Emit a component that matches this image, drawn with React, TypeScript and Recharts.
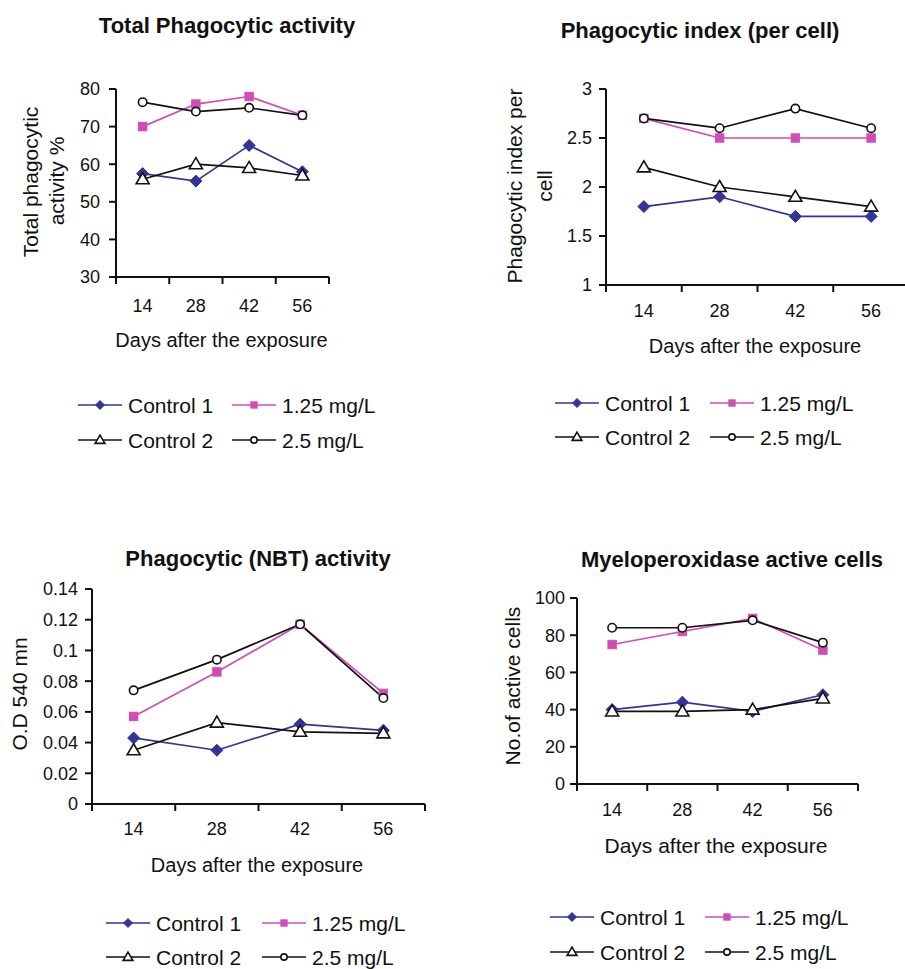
import React from 'react';
import { LineChart, Line, XAxis, YAxis } from 'recharts';

// ---------- data ----------
const days = [14, 28, 42, 56];
const dayBounds = [7, 21, 35, 49, 63];
const seriesNames = ['Control 1', '1.25 mg/L', 'Control 2', '2.5 mg/L'];

// Total phagocytic activity (%)
const totalControl1 = [57.5, 55.5, 65, 58];
const total125 = [70, 76, 78, 73];
const totalControl2 = [56, 60, 59, 57];
const total25 = [76.5, 74, 75, 73];
const totalTicks = [30, 40, 50, 60, 70, 80];

// Phagocytic index per cell
const indexControl1 = [1.8, 1.9, 1.7, 1.7];
const index125 = [2.7, 2.5, 2.5, 2.5];
const indexControl2 = [2.2, 2.0, 1.9, 1.8];
const index25 = [2.7, 2.6, 2.8, 2.6];
const indexTicks = [1, 1.5, 2, 2.5, 3];

// Phagocytic (NBT) activity, O.D 540 nm
const nbtControl1 = [0.043, 0.035, 0.052, 0.048];
const nbt125 = [0.057, 0.086, 0.117, 0.072];
const nbtControl2 = [0.035, 0.053, 0.047, 0.046];
const nbt25 = [0.074, 0.094, 0.117, 0.069];
const nbtTicks = [0, 0.02, 0.04, 0.06, 0.08, 0.1, 0.12, 0.14];

// Myeloperoxidase active cells
const mpoControl1 = [40, 44, 39, 48];
const mpo125 = [75, 82, 89, 72];
const mpoControl2 = [39, 39, 40, 46];
const mpo25 = [84, 84, 88, 76];
const mpoTicks = [0, 20, 40, 60, 80, 100];

const buildRows = (c1: number[], m125: number[], c2: number[], m25: number[]) =>
  days.map((d, i) => ({ day: d, c1: c1[i], m125: m125[i], c2: c2[i], m25: m25[i] }));

// ---------- styles ----------
const FONT = '"Liberation Sans", Arial, Helvetica, sans-serif';
const INK = '#111';

type MarkerKind = 'diamond' | 'square' | 'triangle' | 'circle';
const seriesStyles: { key: string; name: string; color: string; marker: MarkerKind }[] = [
  { key: 'c1', name: seriesNames[0], color: '#333399', marker: 'diamond' },
  { key: 'm125', name: seriesNames[1], color: '#D04DB6', marker: 'square' },
  { key: 'c2', name: seriesNames[2], color: '#111111', marker: 'triangle' },
  { key: 'm25', name: seriesNames[3], color: '#111111', marker: 'circle' },
];

const Marker = ({ kind, cx, cy, color, s = 1 }: { kind: MarkerKind; cx: number; cy: number; color: string; s?: number }) => {
  if (cx == null || cy == null || isNaN(cx) || isNaN(cy)) return null;
  if (kind === 'diamond') {
    const r = 6 * s;
    return <polygon points={`${cx},${cy - r} ${cx + r},${cy} ${cx},${cy + r} ${cx - r},${cy}`} fill={color} stroke={color} strokeWidth={1} />;
  }
  if (kind === 'square') {
    const h = 4.2 * s;
    return <rect x={cx - h} y={cy - h} width={2 * h} height={2 * h} fill={color} stroke={color} strokeWidth={1} />;
  }
  if (kind === 'triangle') {
    const w = 6.5 * s;
    return (
      <polygon
        points={`${cx},${cy - 6.5 * s} ${cx + w},${cy + 4.5 * s} ${cx - w},${cy + 4.5 * s}`}
        fill="#fff"
        stroke={color}
        strokeWidth={1.6}
      />
    );
  }
  return <circle cx={cx} cy={cy} r={4.2 * s} fill="#fff" stroke={color} strokeWidth={1.6} />;
};

const XTick = (props: any) => {
  const { x, y, payload, labelDy } = props;
  const v = payload && payload.value;
  if (days.includes(v)) {
    return (
      <text x={x} y={y + labelDy} textAnchor="middle" fontSize={18} fontFamily={FONT} fill={INK}>
        {v}
      </text>
    );
  }
  return <line x1={x} y1={y} x2={x} y2={y + 7} stroke={INK} strokeWidth={2} />;
};

// ---------- panels (layout) ----------
type Panel = {
  id: string;
  data: any[];
  plot: { x: number; y: number; w: number; h: number };
  yDomain: [number, number];
  yTicks: number[];
  tickMargin: number;
  xLabelDy: number;
  title: { text: string; x: number; y: number };
  yLabel: { text: string; x: number; y: number }[];
  xLabel: { x: number; y: number; size: number };
  legend: { x1: number; x2: number; y1: number; y2: number };
};

const panels: Panel[] = [
  {
    id: 'total',
    data: buildRows(totalControl1, total125, totalControl2, total25),
    plot: { x: 116, y: 89, w: 213, h: 188 },
    yDomain: [30, 80],
    yTicks: totalTicks,
    tickMargin: 9,
    xLabelDy: 35,
    title: { text: 'Total Phagocytic activity', x: 227, y: 33 },
    yLabel: [
      { text: 'Total phagocytic', x: 38, y: 182 },
      { text: 'activity %', x: 63.5, y: 181 },
    ],
    xLabel: { x: 221.5, y: 347, size: 20 },
    legend: { x1: 78, x2: 232, y1: 405, y2: 440 },
  },
  {
    id: 'index',
    data: buildRows(indexControl1, index125, indexControl2, index25),
    plot: { x: 606, y: 89, w: 303, h: 196 },
    yDomain: [1, 3],
    yTicks: indexTicks,
    tickMargin: 7,
    xLabelDy: 32,
    title: { text: 'Phagocytic index (per cell)', x: 700, y: 38 },
    yLabel: [
      { text: 'Phagocytic index per', x: 522, y: 186 },
      { text: 'cell', x: 552, y: 186 },
    ],
    xLabel: { x: 755, y: 353, size: 20 },
    legend: { x1: 555, x2: 710, y1: 403, y2: 437 },
  },
  {
    id: 'nbt',
    data: buildRows(nbtControl1, nbt125, nbtControl2, nbt25),
    plot: { x: 92, y: 589, w: 333, h: 215 },
    yDomain: [0, 0.14],
    yTicks: nbtTicks,
    tickMargin: 7,
    xLabelDy: 31,
    title: { text: 'Phagocytic (NBT) activity', x: 258, y: 566 },
    yLabel: [{ text: 'O.D 540 mn', x: 27, y: 694 }],
    xLabel: { x: 257, y: 872, size: 20 },
    legend: { x1: 106, x2: 262, y1: 923, y2: 957 },
  },
  {
    id: 'mpo',
    data: buildRows(mpoControl1, mpo125, mpoControl2, mpo25),
    plot: { x: 577, y: 598, w: 281, h: 186 },
    yDomain: [0, 100],
    yTicks: mpoTicks,
    tickMargin: 5,
    xLabelDy: 32,
    title: { text: 'Myeloperoxidase active cells', x: 732, y: 567 },
    yLabel: [{ text: 'No.of active cells', x: 520, y: 686 }],
    xLabel: { x: 716, y: 853, size: 21 },
    legend: { x1: 550, x2: 705, y1: 917, y2: 952 },
  },
];

const LEFT_PAD = 70;
const TOP_PAD = 12;
const RIGHT_PAD = 14;
const X_AXIS_H = 40;
const BOTTOM_EXTRA = 6;

const PanelChart = ({ p }: { p: Panel }) => {
  const width = p.plot.w + LEFT_PAD + RIGHT_PAD;
  const height = p.plot.h + TOP_PAD + X_AXIS_H + BOTTOM_EXTRA;
  const allXTicks = [...dayBounds, ...days].sort((a, b) => a - b);
  return (
    <div style={{ position: 'absolute', left: p.plot.x - LEFT_PAD, top: p.plot.y - TOP_PAD, width, height }}>
      <LineChart width={width} height={height} data={p.data} margin={{ top: TOP_PAD, right: RIGHT_PAD, left: 0, bottom: BOTTOM_EXTRA }}>
        <XAxis
          dataKey="day"
          type="number"
          domain={[7, 63]}
          ticks={allXTicks}
          interval={0}
          height={X_AXIS_H}
          tickLine={false}
          tickSize={0}
          tickMargin={0}
          axisLine={{ stroke: INK, strokeWidth: 2 }}
          tick={<XTick labelDy={p.xLabelDy} />}
        />
        <YAxis
          type="number"
          width={LEFT_PAD}
          domain={p.yDomain}
          ticks={p.yTicks}
          interval={0}
          tickSize={7}
          tickMargin={p.tickMargin}
          axisLine={{ stroke: INK, strokeWidth: 2 }}
          tickLine={{ stroke: INK, strokeWidth: 2 }}
          tick={{ fontSize: 18, fontFamily: FONT, fill: INK }}
        />
        {seriesStyles.map((s) => (
          <Line
            key={s.key}
            type="linear"
            dataKey={s.key}
            name={s.name}
            stroke={s.color}
            strokeWidth={1.7}
            isAnimationActive={false}
            activeDot={false}
            dot={(dp: any) => <Marker key={`${s.key}-${dp.index}`} kind={s.marker} cx={dp.cx} cy={dp.cy} color={s.color} />}
          />
        ))}
      </LineChart>
    </div>
  );
};

const LegendBlock = ({ p }: { p: Panel }) => {
  const cols = [p.legend.x1, p.legend.x2];
  const rows = [p.legend.y1, p.legend.y2];
  return (
    <g>
      {seriesStyles.map((s, i) => {
        const x = cols[i % 2];
        const y = rows[Math.floor(i / 2)];
        return (
          <g key={s.key}>
            <line x1={x} y1={y} x2={x + 44} y2={y} stroke={s.color} strokeWidth={1.7} />
            <Marker kind={s.marker} cx={x + 22} cy={y} color={s.color} s={0.75} />
            <text x={x + 50} y={y + 7.5} fontSize={21} fontFamily={FONT} fill={INK}>
              {s.name}
            </text>
          </g>
        );
      })}
    </g>
  );
};

const Overlay = () => (
  <svg width={905} height={969} style={{ position: 'absolute', left: 0, top: 0, pointerEvents: 'none' }}>
    {panels.map((p) => (
      <g key={p.id}>
        <text x={p.title.x} y={p.title.y} textAnchor="middle" fontSize={22} fontWeight="bold" fontFamily={FONT} fill={INK}>
          {p.title.text}
        </text>
        {p.yLabel.map((l, i) => (
          <text
            key={i}
            x={l.x}
            y={l.y}
            textAnchor="middle"
            fontSize={21}
            fontFamily={FONT}
            fill={INK}
            transform={`rotate(-90 ${l.x} ${l.y})`}
          >
            {l.text}
          </text>
        ))}
        <text x={p.xLabel.x} y={p.xLabel.y} textAnchor="middle" fontSize={p.xLabel.size} fontFamily={FONT} fill={INK}>
          Days after the exposure
        </text>
        <LegendBlock p={p} />
      </g>
    ))}
  </svg>
);

export default function App() {
  return (
    <div
      style={{
        position: 'absolute',
        left: 0,
        top: 0,
        width: 905,
        height: 969,
        overflow: 'hidden',
        background: '#fff',
        fontFamily: FONT,
      }}
    >
      {panels.map((p) => (
        <PanelChart key={p.id} p={p} />
      ))}
      <Overlay />
    </div>
  );
}
